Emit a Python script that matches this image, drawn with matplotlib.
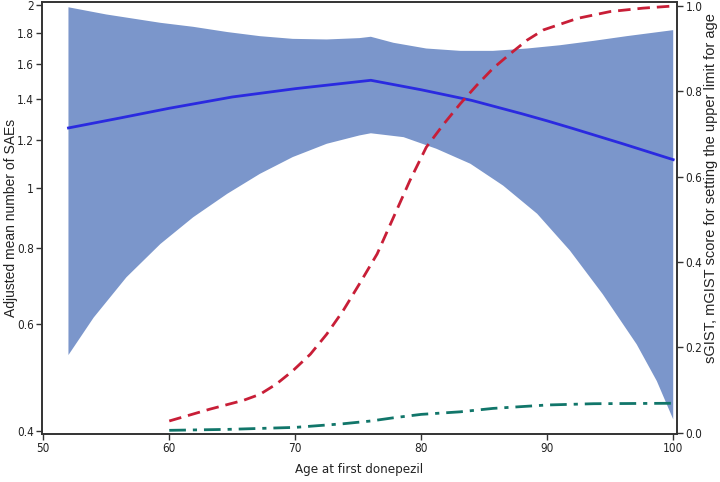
import matplotlib
matplotlib.use("Agg")
import matplotlib.pyplot as plt
from matplotlib import font_manager
from matplotlib.ticker import FixedLocator, NullLocator

# adjusted mean number of SAEs (left axis, log scale)
age_mean = [52, 56, 60, 65, 70, 76, 80, 84, 88, 90, 92, 96, 100]
mean_sae = [1.257, 1.304, 1.354, 1.413, 1.458, 1.505, 1.452, 1.395, 1.326, 1.291,
            1.255, 1.184, 1.115]

# 95% band, upper and lower limits
age_up = [52, 55, 59.3, 61.9, 64.6, 67.2, 69.8, 72.5, 75.1, 76, 77.8, 80.4, 83.1,
          85.7, 88.4, 91, 93.7, 96.3, 100]
upper_sae = [1.983, 1.93, 1.87, 1.842, 1.806, 1.778, 1.76, 1.756, 1.765, 1.774,
             1.734, 1.697, 1.682, 1.682, 1.697, 1.718, 1.747, 1.778, 1.819]
age_lo = [52, 54, 56.6, 59.3, 61.9, 64.6, 67.2, 69.8, 72.5, 75.1, 76, 78.6, 81.2,
          83.9, 86.5, 89.2, 91.8, 94.4, 97.1, 98.7, 100]
lower_sae = [0.533, 0.614, 0.715, 0.811, 0.897, 0.98, 1.057, 1.126, 1.184, 1.222,
             1.232, 1.214, 1.162, 1.098, 1.011, 0.909, 0.791, 0.671, 0.555, 0.483,
             0.418]

# sGIST score (right axis)
age_s = [60, 63.2, 65.9, 67.2, 68.5, 69.8, 71.2, 72.5, 73.8, 75.1, 76.5, 77.8, 79.1,
         80.4, 81.8, 83.1, 84.4, 85.7, 87.1, 88.4, 89.7, 92.4, 95, 97.6, 100]
sgist = [0.0275, 0.055, 0.076, 0.09, 0.114, 0.145, 0.184, 0.231, 0.286, 0.349,
         0.419, 0.505, 0.591, 0.669, 0.724, 0.771, 0.814, 0.854, 0.889, 0.92, 0.944,
         0.971, 0.987, 0.995, 1.0]

# mGIST score (right axis)
age_m = [60, 64.6, 70, 73.8, 76, 77.8, 80, 83.1, 85.7, 90, 93.7, 100]
mgist = [0.0056, 0.0078, 0.0125, 0.021, 0.0275, 0.035, 0.043, 0.049, 0.057, 0.065,
         0.068, 0.069]

left_ticks = [0.4, 0.6, 0.8, 1, 1.2, 1.4, 1.6, 1.8, 2]
left_labels = ["0.4", "0.6", "0.8", "1", "1.2", "1.4", "1.6", "1.8", "2"]
right_ticks = [0.0, 0.2, 0.4, 0.6, 0.8, 1.0]
x_ticks = [50, 60, 70, 80, 90, 100]

plt.rcParams["font.family"] = ["Liberation Sans", "DejaVu Sans"]

# narrow face for tick labels, if a condensed one is around
cond = font_manager.FontProperties(family="DejaVu Sans", stretch="condensed")
cond_file = font_manager.findfont(cond, fallback_to_default=True)
if "Condensed" in cond_file:
    tick_font = dict(family="DejaVu Sans", stretch="condensed", size=8.5)
else:
    tick_font = dict(family="Liberation Sans", size=8.5)

fig = plt.figure(figsize=(7.2, 4.82), dpi=100)
ax = fig.add_axes([42 / 720, 1 - 434 / 482, 635 / 720, 432 / 482])

# confidence band as one closed polygon: upper edge out, lower edge back
ax.fill(age_up + age_lo[::-1], upper_sae + lower_sae[::-1], color="#7b96cb", lw=0)
ax.plot(age_mean, mean_sae, color="#2a2ae0", lw=2, zorder=2)
ax.set_yscale("log")
ax.set_xlim(49.9, 100.3)
ax.set_ylim(0.3955, 2.023)
ax.yaxis.set_major_locator(FixedLocator(left_ticks))
ax.yaxis.set_minor_locator(NullLocator())
ax.set_yticklabels(left_labels)
ax.set_xticks(x_ticks)

ax2 = ax.twinx()
ax2.plot(age_s, sgist, color="#c81e37", lw=2, dashes=(4.5, 2.5))
ax2.plot(age_m, mgist, color="#11766a", lw=2, dashes=(6, 2.5, 1.5, 2.5))
ax2.set_ylim(-0.003, 1.0094)
ax2.set_yticks(right_ticks)
ax2.set_yticklabels(["%.1f" % t for t in right_ticks])

for a in (ax, ax2):
    for s in a.spines.values():
        s.set_color("#333333")
        s.set_linewidth(1.2)
    a.tick_params(direction="out", length=4, width=1, color="#333333",
                  labelcolor="#222222", pad=2)
    for lab in a.get_xticklabels() + a.get_yticklabels():
        lab.set(**tick_font)

ax.set_xlabel("Age at first donepezil", color="#222222", **dict(tick_font, size=9.5))
ax.xaxis.set_label_coords(0.5, -0.068)
ax.set_ylabel("Adjusted mean number of SAEs", fontsize=10, color="#222222")
ax.yaxis.set_label_coords(-0.038, 0.5)
ax2.set_ylabel("sGIST, mGIST score for setting the upper limit for age", fontsize=10.5,
               color="#222222")
ax2.yaxis.set_label_coords(1.042, 0.57)

fig.savefig("out.png", dpi=100)
